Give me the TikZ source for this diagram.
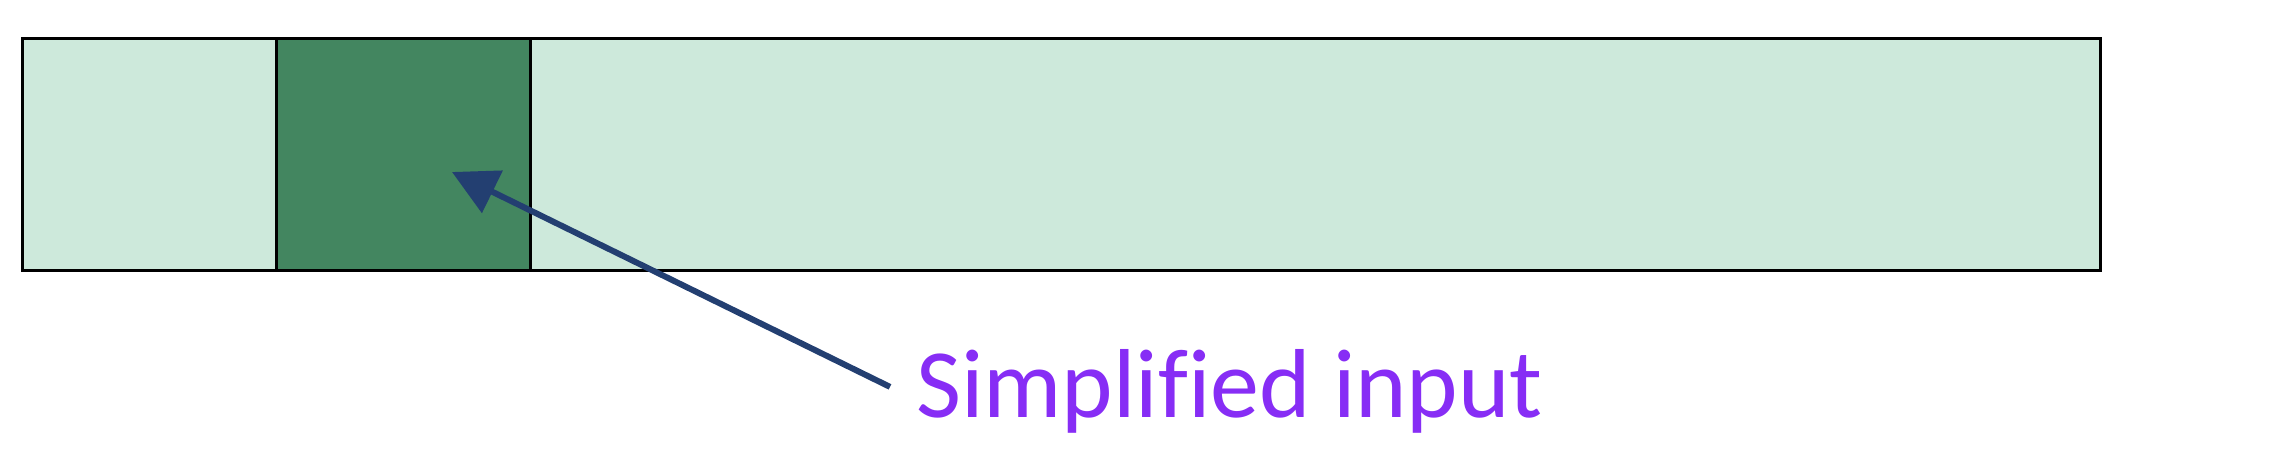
\documentclass[tikz,border=0pt]{standalone}
\usepackage{fontspec}
\setmainfont[Ligatures=NoCommon]{Carlito}
\usetikzlibrary{arrows.meta}
\definecolor{lightcell}{RGB}{205,233,219}
\definecolor{darkcell}{RGB}{67,134,96}
\definecolor{arrowblue}{RGB}{35,63,113}
\definecolor{labelpurple}{RGB}{135,45,245}
\tikzset{
  cell/.style={draw=black, line width=3pt, rectangle, inner sep=0pt, outer sep=0pt,
    minimum height=232pt, anchor=north west},
  lightbox/.style={cell, fill=lightcell},
  darkbox/.style={cell, fill=darkcell},
  pointer/.style={draw=arrowblue, line width=6pt,
    -{Triangle[length=45pt, width=46pt]}},
  lbltext/.style={text=labelpurple, font=\fontsize{98pt}{110pt}\selectfont,
    inner xsep=26pt, inner ysep=0pt, anchor=base west}
}
\begin{document}
\begin{tikzpicture}[x=1pt, y=1pt]
\useasboundingbox (0,0) rectangle (2284,-448);
\node[lightbox, minimum width=1578pt] (c3) at (522,-38) {};
\node[lightbox, minimum width=254pt] (c1) at (22,-38) {};
\node[darkbox, minimum width=254pt] (c2) at (276,-38) {};
\coordinate (tip) at (452,-172);
\node[lbltext] (lbl) at (890,-417) {Simplif{}ied input};
\draw[pointer] ([yshift=4pt]lbl.west) -- (tip);
\end{tikzpicture}
\end{document}
